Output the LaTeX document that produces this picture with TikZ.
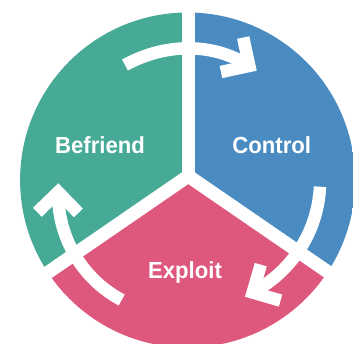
\documentclass[tikz,border=0pt]{standalone}
\usepackage{fontspec}
\newfontfamily\labfont{Liberation Sans}[FakeStretch=0.95]
\definecolor{cgreen}{HTML}{46AA96}
\definecolor{cblue}{HTML}{4A8CC2}
\definecolor{cpink}{HTML}{DE577C}
\begin{document}
\begin{tikzpicture}[x=1pt,y=1pt,
  sep/.style={white, line width=13.3pt},
  arrowline/.style={white, line width=12.5pt},
  headline/.style={white, line width=12.5pt, line join=miter},
  lab/.style={text=white, font=\labfont\bfseries\fontsize{23.3}{28}\selectfont, anchor=base, inner sep=0pt}]
\useasboundingbox (-187.6,-163) rectangle (165.4,180);
\clip (-187.6,-163) rectangle (165.4,180);
\coordinate (O) at (0,0);
\coordinate (J) at (0.7,4);
% sectors
\begin{scope}
  \clip (O) circle (167.5);
  \fill[cgreen] (J) -- +(90:400) -- +(152:400) -- +(214.5:400) -- cycle;
  \fill[cblue]  (J) -- +(90:400) -- +(28:400) -- +(-34.5:400) -- cycle;
  \fill[cpink]  (J) -- +(214.5:400) -- +(270:400) -- +(325.5:400) -- cycle;
\end{scope}
% separators
\draw[sep] (J) -- +(90:300);
\draw[sep] (J) -- +(214.5:300);
\draw[sep] (J) -- +(325.5:300);
% arrows
\coordinate (tT) at (-62.6,115);
\coordinate (hT) at (61.7,114.1);
\coordinate (tR) at (132.4,-6.7);
\coordinate (hR) at (65.1,-112.5);
\coordinate (tL) at (-65.9,-120);
\coordinate (hL) at (-129.4,-12.1);
\draw[arrowline] (tT) to[out=28.6, in=147.2, looseness=0.92] (hT);
\draw[headline] (hT) ++(102.2:29) -- (hT) -- ++(192.2:29);
\draw[arrowline] (tR) to[out=-92.9, in=28.75, looseness=0.92] (hR);
\draw[headline] (hR) ++(73.75:29) -- (hR) -- ++(-16.25:29);
\draw[arrowline] (tL) to[out=152, in=-90.9, looseness=0.92] (hL);
\draw[headline] (hL) ++(224.1:29) -- (hL) -- ++(-45.9:29);
% labels
\node[lab] (befriend) at (-87.6,26.7) {Befriend};
\node[lab] (control) at (84.1,26.7) {Control};
\node[lab] (exploit) at (-2.6,-98) {Exploit};
\end{tikzpicture}
\end{document}
